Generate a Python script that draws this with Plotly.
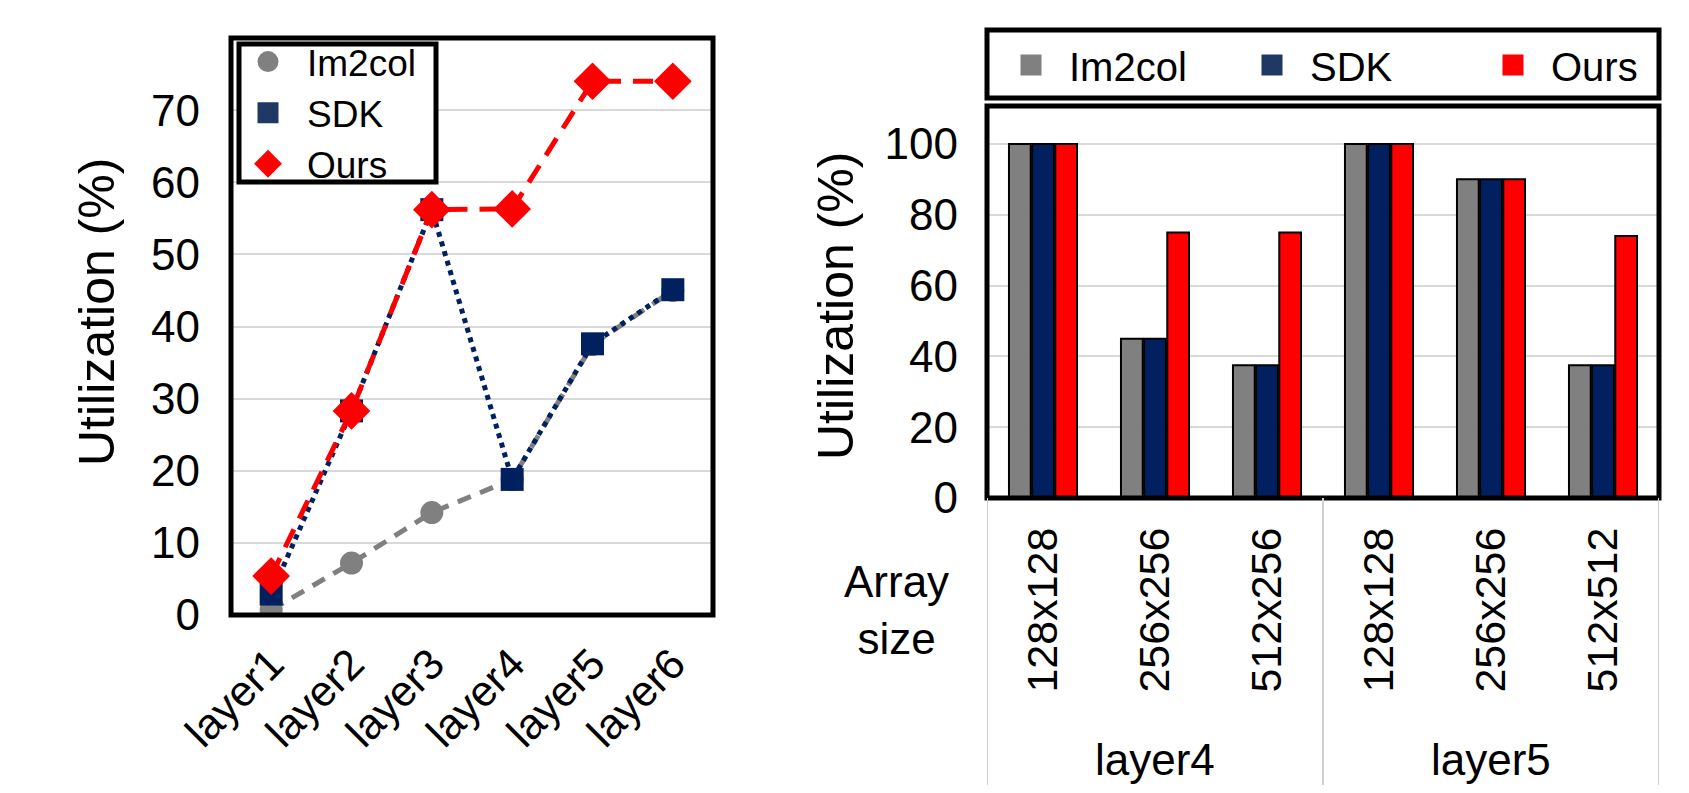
import plotly.graph_objects as go

# ---- data: left line chart ----
layers = ["layer1", "layer2", "layer3", "layer4", "layer5", "layer6"]
im2col_line = [0.7, 7.2, 14.2, 18.8, 37.5, 45.0]
sdk_line = [2.9, 28.3, 56.2, 18.8, 37.6, 45.1]
ours_line = [5.4, 28.3, 56.2, 56.3, 74.0, 74.0]
left_yticks = [0, 10, 20, 30, 40, 50, 60, 70]

# ---- data: right bar chart ----
array_sizes = ["128x128", "256x256", "512x256", "128x128", "256x256", "512x512"]
layer_groups = ["layer4", "layer5"]
group_centers = [1, 4]
im2col_bar = [100, 45, 37.5, 100, 90, 37.5]
sdk_bar = [100, 45, 37.5, 100, 90, 37.5]
ours_bar = [100, 75, 75, 100, 90, 74]
right_yticks = [0, 20, 40, 60, 80, 100]

series_names = ["Im2col", "SDK", "Ours"]

# page body has an 8px margin: build the figure so it fits the 1689x793 window
OFF = 8
W, H = 1689 - 2 * OFF, 793 - 2 * OFF
FONT = "Liberation Sans, Arial, sans-serif"
GRAY = "#808080"
NAVY = "#002060"
RED = "#FF0000"
LEG_NAVY = "#1F3864"


def px_x(p):
    return (p - OFF) / W


def px_y(p):
    return 1 - (p - OFF) / H


xs_left = list(range(len(layers)))
xs_right = list(range(len(array_sizes)))

fig = go.Figure()

# left chart traces
fig.add_trace(go.Scatter(
    x=xs_left, y=im2col_line, name="Im2col", mode="lines+markers",
    line=dict(color=GRAY, width=5, dash="14px,10px"),
    marker=dict(symbol="circle", size=23, color=GRAY),
    xaxis="x", yaxis="y", showlegend=False))
fig.add_trace(go.Scatter(
    x=xs_left, y=sdk_line, name="SDK", mode="lines+markers",
    line=dict(color=NAVY, width=5, dash="dot"),
    marker=dict(symbol="square", size=23, color=NAVY),
    xaxis="x", yaxis="y", showlegend=False))
fig.add_trace(go.Scatter(
    x=xs_left, y=ours_line, name="Ours", mode="lines+markers",
    line=dict(color=RED, width=5, dash="20px,12px"),
    marker=dict(symbol="diamond", size=29, color=RED),
    xaxis="x", yaxis="y", showlegend=False))

# left legend entries (markers only, as in the reference)
for name, sym, col in [("Im2col", "circle", GRAY), ("SDK", "square", LEG_NAVY),
                       ("Ours", "diamond", RED)]:
    fig.add_trace(go.Scatter(
        x=[None], y=[None], name=name, mode="markers",
        marker=dict(symbol=sym, size=16, color=col, line=dict(color=col, width=5)),
        xaxis="x", yaxis="y", legend="legend", showlegend=True))

# right chart traces
for name, vals, col in zip(series_names, [im2col_bar, sdk_bar, ours_bar], [GRAY, NAVY, RED]):
    fig.add_trace(go.Bar(
        x=xs_right, y=vals, name=name,
        marker=dict(color=col, line=dict(color="black", width=2)),
        xaxis="x2", yaxis="y2", showlegend=False))

# right legend entries (square swatches)
for name, col in zip(series_names, [GRAY, LEG_NAVY, RED]):
    fig.add_trace(go.Scatter(
        x=[None], y=[None], name=name, mode="markers",
        marker=dict(symbol="square", size=16, color=col, line=dict(color=col, width=5)),
        xaxis="x2", yaxis="y2", legend="legend2", showlegend=True))

# domains (pixel-based, window coordinates)
L_x0, L_x1, L_y0, L_y1 = 231, 713, 38, 615
R_x0, R_x1, R_y0, R_y1 = 987, 1659, 106, 498

fig.update_layout(
    width=W, height=H,
    margin=dict(l=0, r=0, t=0, b=0, autoexpand=False),
    paper_bgcolor="white", plot_bgcolor="white",
    font=dict(family=FONT, color="black", size=40),
    barmode="group", bargap=0.38, bargroupgap=0.06,
    xaxis=dict(
        domain=[px_x(L_x0), px_x(L_x1)], range=[-0.5, 5.5],
        tickvals=xs_left, ticktext=layers, tickangle=-45,
        tickfont=dict(size=43), showgrid=False, zeroline=False,
        showline=False, ticks="", ticklabelstandoff=14, anchor="y"),
    yaxis=dict(
        domain=[px_y(L_y1), px_y(L_y0)], range=[0, 80],
        tickvals=left_yticks, tickfont=dict(size=44),
        showgrid=True, gridcolor="#d9d9d9", gridwidth=2,
        zeroline=False, showline=False, ticks="", ticklabelstandoff=30, anchor="x"),
    xaxis2=dict(
        domain=[px_x(R_x0), px_x(R_x1)], range=[-0.5, 5.5],
        tickvals=xs_right, ticktext=array_sizes, tickangle=-90,
        tickfont=dict(size=43), showgrid=False, zeroline=False,
        showline=False, ticks="", ticklabelstandoff=20, anchor="y2"),
    yaxis2=dict(
        domain=[px_y(R_y1), px_y(R_y0)], range=[0, 110.7],
        tickvals=right_yticks, tickfont=dict(size=44),
        showgrid=True, gridcolor="#d9d9d9", gridwidth=2,
        zeroline=False, showline=False, ticks="", ticklabelstandoff=28, anchor="x2"),
    legend=dict(
        x=px_x(229), y=px_y(113), xanchor="left", yanchor="middle",
        bgcolor="rgba(0,0,0,0)", borderwidth=0,
        font=dict(size=37), itemsizing="trace", tracegroupgap=0, itemwidth=68),
    legend2=dict(
        orientation="h", x=px_x(993), y=px_y(65), xanchor="left", yanchor="middle",
        bgcolor="rgba(0,0,0,0)", borderwidth=0, itemsizing="trace",
        font=dict(size=40), entrywidth=160, itemwidth=66),
    showlegend=True,
)

shapes = []
# frames
shapes.append(dict(type="rect", xref="paper", yref="paper",
                   x0=px_x(L_x0), x1=px_x(L_x1), y0=px_y(L_y1), y1=px_y(L_y0),
                   line=dict(color="black", width=5), layer="above"))
shapes.append(dict(type="rect", xref="paper", yref="paper",
                   x0=px_x(R_x0), x1=px_x(R_x1), y0=px_y(R_y1), y1=px_y(R_y0),
                   line=dict(color="black", width=5), layer="above"))
# left legend box
shapes.append(dict(type="rect", xref="paper", yref="paper",
                   x0=px_x(239), x1=px_x(436), y0=px_y(182), y1=px_y(44),
                   line=dict(color="black", width=5), fillcolor="white", layer="above"))
# right legend box
shapes.append(dict(type="rect", xref="paper", yref="paper",
                   x0=px_x(R_x0), x1=px_x(R_x1), y0=px_y(98), y1=px_y(30),
                   line=dict(color="black", width=5)))
# group dividers below right chart
for xv in [-0.5, 2.5, 5.5]:
    shapes.append(dict(type="line", xref="x2", yref="paper",
                       x0=xv, x1=xv, y0=0, y1=px_y(R_y1),
                       line=dict(color="#d0d0d0", width=2)))
fig.update_layout(shapes=shapes)

annotations = []
annotations.append(dict(text="Utilization (%)", textangle=-90, xref="paper", yref="paper",
                        x=px_x(97), y=px_y(312), showarrow=False,
                        font=dict(size=50), xanchor="center", yanchor="middle"))
annotations.append(dict(text="Utilization (%)", textangle=-90, xref="paper", yref="paper",
                        x=px_x(836), y=px_y(306), showarrow=False,
                        font=dict(size=50), xanchor="center", yanchor="middle"))
annotations.append(dict(text="Array<br>size", xref="paper", yref="paper",
                        x=px_x(896), y=px_y(610), showarrow=False,
                        font=dict(size=44), xanchor="center", yanchor="middle", align="center"))
for lbl, cx in zip(layer_groups, group_centers):
    annotations.append(dict(text=lbl, xref="x2", yref="paper",
                            x=cx, y=px_y(759), showarrow=False,
                            font=dict(size=44), xanchor="center", yanchor="middle"))
fig.update_layout(annotations=annotations)

fig.write_html("out.html")
